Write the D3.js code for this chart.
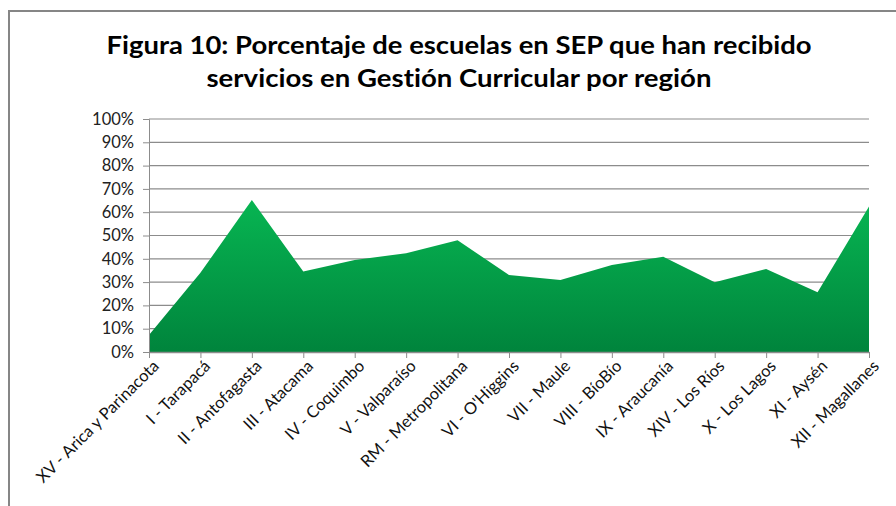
<!DOCTYPE html>
<meta charset="utf-8">
<script src="https://d3js.org/d3.v7.min.js"></script>
<style>
  body { margin: 0; background: #fff; }
  text { font-family: Lato, "Open Sans", sans-serif; font-variant-ligatures: none; }
</style>
<div id="chart"></div>
<script>
var regions = ["XV - Arica y Parinacota", "I - Tarapacá", "II - Antofagasta", "III - Atacama",
  "IV - Coquimbo", "V - Valparaíso", "RM - Metropolitana", "VI - O'Higgins", "VII - Maule",
  "VIII - BíoBío", "IX - Araucanía", "XIV - Los Ríos", "X - Los Lagos", "XI - Aysén",
  "XII - Magallanes"];
var porcentaje = [0.073, 0.34, 0.652, 0.345, 0.395, 0.424, 0.48, 0.33, 0.309,
  0.373, 0.409, 0.299, 0.356, 0.256, 0.624];
var yTicks = [0, 0.1, 0.2, 0.3, 0.4, 0.5, 0.6, 0.7, 0.8, 0.9, 1];
var titleLines = ["Figura 10: Porcentaje de escuelas en SEP que han recibido",
  "servicios en Gestión Curricular por región"];

var W = 896, H = 506;
var margin = {top: 119, left: 149, right: 27, bottom: 154};
var width = W - margin.left - margin.right,
    height = H - margin.top - margin.bottom;

var svg = d3.select("#chart").append("svg")
  .attr("width", W).attr("height", H);

// chart frame (only top and left visible)
svg.append("path")
  .attr("d", "M9,506 L9,11 L896,11")
  .attr("fill", "none").attr("stroke", "#868686").attr("stroke-width", 2);

// title
var titleW = [705, 505];
svg.selectAll(".title").data(titleLines).enter().append("text")
  .attr("class", "title")
  .attr("x", 459)
  .attr("y", function(d, i) { return 54 + i * 33; })
  .attr("text-anchor", "middle")
  .style("font-size", "25px").style("font-weight", "bold").style("fill", "#000")
  .text(function(d) { return d; })
  .each(function(d, i) {
    var l = this.getComputedTextLength();
    if (l > 0) d3.select(this).attr("textLength", titleW[i]).attr("lengthAdjust", "spacingAndGlyphs");
  });

var g = svg.append("g").attr("transform", "translate(" + margin.left + "," + margin.top + ")");

var x = d3.scalePoint().domain(regions).range([0, width]);
var y = d3.scaleLinear().domain([0, 1]).range([height, 0]);

// gridlines
g.selectAll(".grid").data(yTicks.slice(1)).enter().append("line")
  .attr("x1", 0).attr("x2", width)
  .attr("y1", function(d) { return y(d); }).attr("y2", function(d) { return y(d); })
  .attr("stroke", "#8c8c8c").attr("stroke-width", 1.2);

var grad = svg.append("defs").append("linearGradient")
  .attr("id", "verde").attr("x1", 0).attr("y1", 0).attr("x2", 0).attr("y2", 1);
grad.append("stop").attr("offset", "0%").attr("stop-color", "#07b552");
grad.append("stop").attr("offset", "100%").attr("stop-color", "#00843c");

var area = d3.area()
  .x(function(d, i) { return x(regions[i]); })
  .y0(height)
  .y1(function(d) { return y(d); });

g.append("path")
  .datum(porcentaje)
  .attr("d", area)
  .attr("fill", "url(#verde)");

// y axis
var yAxis = g.append("g")
  .call(d3.axisLeft(y).tickValues(yTicks).tickFormat(d3.format(".0%")).tickSize(6).tickPadding(9));
yAxis.select(".domain").attr("stroke", "#8c8c8c");
yAxis.selectAll(".tick line").attr("stroke", "#8c8c8c");
yAxis.selectAll("text").style("font-size", "16.5px").style("fill", "#222");

// x axis
var xAxis = g.append("g")
  .attr("transform", "translate(0," + height + ")")
  .call(d3.axisBottom(x).tickSize(6).tickSizeOuter(0));
xAxis.select(".domain").attr("stroke", "#8c8c8c").attr("stroke-width", 1.5);
xAxis.selectAll(".tick line").attr("stroke", "#8c8c8c");
xAxis.selectAll("text")
  .style("font-size", "16.5px").style("fill", "#111")
  .attr("text-anchor", "end")
  .attr("dx", "-0.2em").attr("dy", "0.55em")
  .attr("transform", "rotate(-45)");
</script>
